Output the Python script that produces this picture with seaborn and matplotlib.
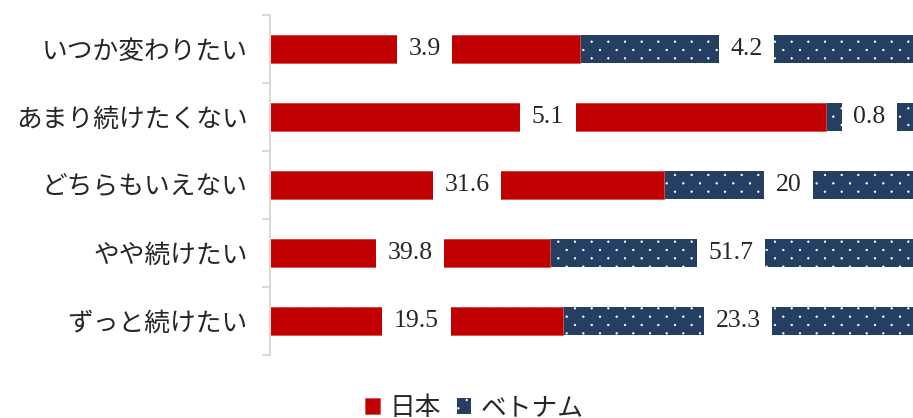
import matplotlib
matplotlib.use("Agg")
import matplotlib.pyplot as plt
import matplotlib.hatch as mhatch
from matplotlib.path import Path
import numpy as np
import seaborn as sns
import pandas as pd

# Survey answers (top to bottom) and the percentages for each country
categories = ["いつか変わりたい", "あまり続けたくない", "どちらもいえない", "やや続けたい", "ずっと続けたい"]
japan = [3.9, 5.1, 31.6, 39.8, 19.5]
vietnam = [4.2, 0.8, 20, 51.7, 23.3]
series_names = ["日本", "ベトナム"]

RED = "#C00000"
NAVY = "#253F62"
JP_FONT = ["Noto Sans CJK JP", "DejaVu Sans"]
NUM_FONT = "Liberation Serif"
FS = 18.5


class StaggeredDots(mhatch.HatchPatternBase):
    """Tiny filled dots: rows twice as dense as columns, alternate rows shifted."""
    radius = 0.008

    def __init__(self, hatch, density):
        n = hatch.count('.') * density
        self.ncols = n
        self.nrows = 2 * n
        circ = Path.unit_circle()
        self.shape_vertices = circ.vertices
        self.shape_codes = circ.codes
        if n == 0:
            self.num_vertices = 0
        else:
            count = sum((self.ncols + 1) if r % 2 == 0 else self.ncols
                        for r in range(self.nrows + 1))
            self.num_vertices = count * len(self.shape_vertices)

    def set_vertices_and_codes(self, vertices, codes):
        step = 1.0 / self.ncols
        sv = self.shape_vertices * self.radius
        vparts, cparts = [], []
        for r in range(self.nrows + 1):
            y = r / self.nrows
            if r % 2 == 0:
                cols = np.linspace(0, 1, self.ncols + 1)
            else:
                cols = np.linspace(step / 2, 1 - step / 2, self.ncols)
            for x in cols:
                vparts.append(sv + [x, y])
                cparts.append(self.shape_codes)
        np.concatenate(vparts, out=vertices)
        np.concatenate(cparts, out=codes)


mhatch._hatch_types = [StaggeredDots if t is mhatch.SmallFilledCircles else t
                       for t in mhatch._hatch_types]

sns.set_theme(style="white")
plt.rcParams["font.family"] = JP_FONT
plt.rcParams["hatch.linewidth"] = 0.5

# Each row is normalised so the two countries fill the full width
df = pd.DataFrame({"category": categories, "japan": japan, "vietnam": vietnam})
df["total"] = df["japan"] + df["vietnam"]
df["jp_share"] = df["japan"] / df["total"] * 100
df["full"] = (df["japan"] + df["vietnam"]) / df["total"] * 100

fig = plt.figure(figsize=(9.13, 4.18), dpi=100)
ax = fig.add_axes([270 / 913, 1 - 355 / 418, 1 - 270 / 913, 340 / 418])

# Vietnam segment: full-width bar underneath, Japan share drawn on top
sns.barplot(data=df, x="full", y="category", order=categories, orient="h",
            color=NAVY, saturation=1, width=0.4, errorbar=None,
            hatch=".", edgecolor="white", linewidth=0, ax=ax)
sns.barplot(data=df, x="jp_share", y="category", order=categories, orient="h",
            color=RED, saturation=1, width=0.4, errorbar=None,
            edgecolor="#d9534f", linewidth=0.6, ax=ax)

# Value labels centred on each segment, with a white box cutting the bar
box = dict(boxstyle="square,pad=0.45", fc="white", ec="none")
for i, row in df.iterrows():
    jp_mid = row["jp_share"] / 2
    vn_mid = row["jp_share"] + (row["full"] - row["jp_share"]) / 2
    ax.text(jp_mid, i, f"{row['japan']:g}", ha="center", va="center",
            fontsize=FS, family=NUM_FONT, color="#262626", bbox=box, zorder=5)
    ax.text(vn_mid, i, f"{row['vietnam']:g}", ha="center", va="center",
            fontsize=FS, family=NUM_FONT, color="#262626", bbox=box, zorder=5)

ax.set_xlim(0, 100)
ax.set_ylim(len(categories) - 0.5, -0.5)
ax.set_xlabel("")
ax.set_ylabel("")
ax.set_xticks([])
for side in ["top", "right", "bottom"]:
    ax.spines[side].set_visible(False)
ax.spines["left"].set_color("#d9d9d9")
ax.spines["left"].set_linewidth(1.5)

ax.set_yticks(range(len(categories)))
ax.set_yticklabels(categories, fontsize=FS, color="#262626")
ax.tick_params(axis="y", which="major", length=0, pad=16)
ax.set_yticks([i - 0.5 for i in range(len(categories) + 1)], minor=True)
ax.tick_params(axis="y", which="minor", length=6, width=1.5, color="#d9d9d9",
               direction="out", left=True)

handles = [ax.containers[1], ax.containers[0]]
fig.legend(handles, series_names, loc="center", bbox_to_anchor=(0.52, 1 - 408 / 418),
           ncol=2, frameon=False, fontsize=FS, handlelength=0.55, handleheight=0.55,
           handletextpad=0.4, columnspacing=0.6, labelcolor="#262626")

fig.savefig("out.png", dpi=100)
